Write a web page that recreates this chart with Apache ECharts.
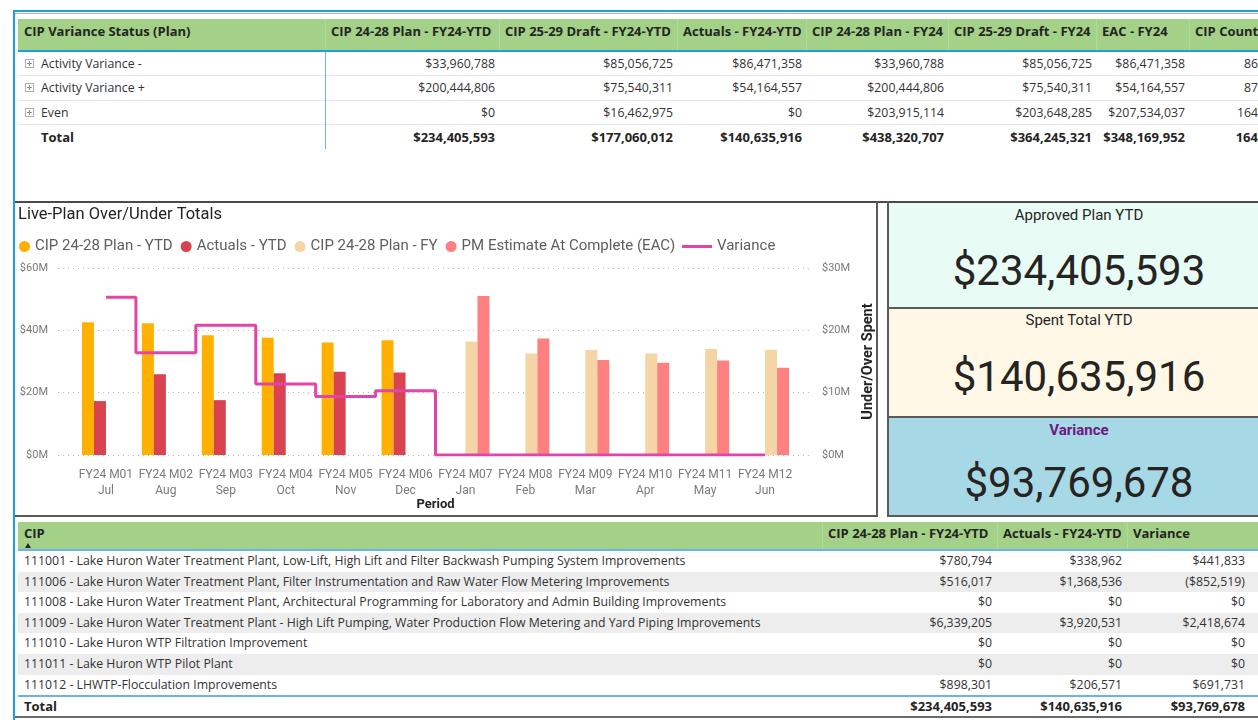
<!DOCTYPE html>
<html>
<head>
<meta charset="utf-8">
<script src="https://cdn.jsdelivr.net/npm/echarts@6/dist/echarts.min.js"></script>
<style>
html,body{margin:0;padding:0;width:1258px;height:720px;overflow:hidden;background:#fff;}
body{position:relative;font-family:"Open Sans","Noto Sans",sans-serif;color:#252423;}
.a{position:absolute;white-space:nowrap;box-sizing:border-box;}
.hd{font-weight:700;font-size:13px;color:#252423;}
.cell{font-size:12.3px;color:#333;}
.tot{font-weight:700;font-size:13px;color:#252423;}
.din{font-family:Roboto,"Open Sans",sans-serif;}
.exp{position:absolute;width:9px;height:9px;border:1px solid #B0B0B0;box-sizing:border-box;}
.exp:before{content:"";position:absolute;left:1px;top:3px;width:5px;height:1px;background:#909090;}
.exp:after{content:"";position:absolute;left:3px;top:1px;width:1px;height:5px;background:#909090;}
</style>
</head>
<body>
<div id="page"></div>
<div id="chart" class="a" style="left:16px;top:204px;width:860px;height:311px;"></div>
<script>
// ---------------- DATA ----------------
const topHeaders = ["CIP Variance Status (Plan)","CIP 24-28 Plan - FY24-YTD","CIP 25-29 Draft - FY24-YTD","Actuals - FY24-YTD","CIP 24-28 Plan - FY24","CIP 25-29 Draft - FY24","EAC - FY24","CIP Count"];
const topRowLabels = ["Activity Variance -","Activity Variance +","Even"];
const topRowValues = [
  ["$33,960,788","$85,056,725","$86,471,358","$33,960,788","$85,056,725","$86,471,358","86"],
  ["$200,444,806","$75,540,311","$54,164,557","$200,444,806","$75,540,311","$54,164,557","87"],
  ["$0","$16,462,975","$0","$203,915,114","$203,648,285","$207,534,037","164"]
];
const topTotalLabel = "Total";
const topTotals = ["$234,405,593","$177,060,012","$140,635,916","$438,320,707","$364,245,321","$348,169,952","164"];

const cardTitles = ["Approved Plan YTD","Spent Total YTD","Variance"];
const cardValues = ["$234,405,593","$140,635,916","$93,769,678"];

const cipHeaders = ["CIP","CIP 24-28 Plan - FY24-YTD","Actuals - FY24-YTD","Variance"];
const cipNames = [
  "111001 - Lake Huron Water Treatment Plant, Low-Lift, High Lift and Filter Backwash Pumping System Improvements",
  "111006 - Lake Huron Water Treatment Plant, Filter Instrumentation and Raw Water Flow Metering Improvements",
  "111008 - Lake Huron Water Treatment Plant, Architectural Programming for Laboratory and Admin Building Improvements",
  "111009 - Lake Huron Water Treatment Plant - High Lift Pumping, Water Production Flow Metering and Yard Piping Improvements",
  "111010 - Lake Huron WTP Filtration Improvement",
  "111011 - Lake Huron WTP Pilot Plant",
  "111012 - LHWTP-Flocculation Improvements"
];
const cipPlan = ["$780,794","$516,017","$0","$6,339,205","$0","$0","$898,301"];
const cipActuals = ["$338,962","$1,368,536","$0","$3,920,531","$0","$0","$206,571"];
const cipVariance = ["$441,833","($852,519)","$0","$2,418,674","$0","$0","$691,731"];
const cipTotals = ["$234,405,593","$140,635,916","$93,769,678"];

const chartTitle = "Live-Plan Over/Under Totals";
const periods = ["FY24 M01","FY24 M02","FY24 M03","FY24 M04","FY24 M05","FY24 M06","FY24 M07","FY24 M08","FY24 M09","FY24 M10","FY24 M11","FY24 M12"];
const months = ["Jul","Aug","Sep","Oct","Nov","Dec","Jan","Feb","Mar","Apr","May","Jun"];
// values in $M
const planYTD    = [42.6, 42.3, 38.4, 37.6, 36.1, 36.8, null, null, null, null, null, null];
const actualsYTD = [17.3, 25.9, 17.6, 26.2, 26.7, 26.5, null, null, null, null, null, null];
const planFY     = [null, null, null, null, null, null, 36.4, 32.6, 33.7, 32.6, 34.0, 33.8];
const eacFY      = [null, null, null, null, null, null, 51.0, 37.4, 30.5, 29.6, 30.3, 28.0];
const variance   = [25.3, 16.4, 20.8, 11.4, 9.4, 10.3, 0, 0, 0, 0, 0, 0];
const seriesNames = ["CIP 24-28 Plan - YTD","Actuals - YTD","CIP 24-28 Plan - FY","PM Estimate At Complete (EAC)","Variance"];
const leftAxisMax = 60, leftAxisStep = 20;
const rightAxisMax = 30, rightAxisStep = 10;

// ---------------- HTML DASHBOARD ----------------
const page = document.getElementById('page');
function box(x, y, w, h, css, text, cls) {
  const d = document.createElement('div');
  d.className = 'a' + (cls ? ' ' + cls : '');
  d.style.left = x + 'px'; d.style.top = y + 'px';
  if (w != null) d.style.width = w + 'px';
  if (h != null) d.style.height = h + 'px';
  if (css) d.style.cssText += css;
  if (text != null) d.textContent = text;
  page.appendChild(d);
  return d;
}

// outer frame
box(13, 10, 1245, 2, 'background:#1BA1E2;');
box(15, 13, 1243, 1, 'background:#B8B8B8;');
box(13, 10, 2, 710, 'background:#1BA1E2;');

// ----- top matrix -----
const tb = [18, 325, 499, 677, 806, 948, 1096, 1189, 1262];
box(18, 19, 1240, 31, 'background:#A3D187;');
for (let i = 1; i < tb.length - 1; i++) box(tb[i], 19, 1, 31, 'background:rgba(255,255,255,0.18);');
topHeaders.forEach((h, i) => {
  box(tb[i] + 6, 23, null, 17, 'line-height:17px;', h, 'hd');
});
box(18, 50, 1240, 2, 'background:#1BA1E2;');
const tRowTop = 52, tRowH = 24.3;
for (let r = 0; r < 4; r++) {
  const y = tRowTop + r * tRowH;
  if (r < 3) box(18, y + tRowH - 1, 1240, 1, 'background:#E6E6E6;');
  const isTot = r === 3;
  const label = isTot ? topTotalLabel : topRowLabels[r];
  if (!isTot) { const e = document.createElement('div'); e.className = 'exp'; e.style.left = '25px'; e.style.top = (y + tRowH / 2 - 5) + 'px'; page.appendChild(e); }
  box(41, y, null, tRowH, 'line-height:' + tRowH + 'px;', label, isTot ? 'tot' : 'cell');
  const vals = isTot ? topTotals : topRowValues[r];
  vals.forEach((v, c) => {
    const x1 = tb[c + 1], x2 = tb[c + 2];
    box(x1, y, x2 - x1 - 4, tRowH, 'line-height:' + tRowH + 'px;text-align:right;', v, isTot ? 'tot' : 'cell');
  });
}
box(325, 52, 1, 97, 'background:#6CB4E8;');

// ----- chart panel frame -----
box(15, 201, 1243, 2, 'background:#4A4A4A;');
box(876, 201, 2, 316, 'background:#5A5A5A;');
box(15, 515, 863, 2, 'background:#5A5A5A;');

// ----- cards -----
const cardTops = [203, 308, 417, 516];
const cardBg = ['#E8FBF5', '#FFF8E7', '#A7D8E6'];
const cardTitleOff = [3, 3, 4];
const cardValueOff = [43, 44, 41];
box(887, 201, 2, 316, 'background:#5A5A5A;');
for (let i = 0; i < 3; i++) {
  const y = cardTops[i], h = cardTops[i + 1] - y;
  box(889, y, 380, h, 'background:' + cardBg[i] + ';');
  if (i > 0) box(889, y - 1, 380, 2, 'background:#5A5A5A;');
  box(889, y + cardTitleOff[i], 380, 18, 'text-align:center;font-size:15px;line-height:18px;' + (i === 2 ? 'color:#6C1A80;font-weight:700;' : 'color:#252423;'), cardTitles[i], 'din');
  box(889, y + cardValueOff[i], 380, 50, 'text-align:center;font-size:42px;line-height:50px;color:#252423;', cardValues[i], 'din');
}
box(887, 515, 380, 2, 'background:#5A5A5A;');

// ----- bottom table -----
const bb = [18, 822, 997, 1127, 1250];
box(18, 522, 1240, 27, 'background:#A3D187;');
for (let i = 1; i < bb.length - 1; i++) box(bb[i], 522, 1, 27, 'background:rgba(255,255,255,0.18);');
cipHeaders.forEach((h, i) => box(bb[i] + 6, 525, null, 17, 'line-height:17px;', h, 'hd'));
box(25, 543, 0, 0, 'border-left:3.5px solid transparent;border-right:3.5px solid transparent;border-bottom:5px solid #252423;');
box(18, 549, 1240, 2, 'background:#6CB4E8;');
const bRowTop = 551, bRowH = 20.6;
cipNames.forEach((n, r) => {
  const y = bRowTop + r * bRowH;
  box(18, y, 1240, bRowH, 'background:' + (r % 2 === 1 ? '#EDEDED' : '#FFFFFF') + ';');
  box(24, y, null, bRowH, 'line-height:' + bRowH + 'px;', n, 'cell');
  [cipPlan[r], cipActuals[r], cipVariance[r]].forEach((v, c) => {
    box(bb[c + 1], y, bb[c + 2] - bb[c + 1] - 5, bRowH, 'line-height:' + bRowH + 'px;text-align:right;', v, 'cell');
  });
});
box(18, 695, 1240, 2, 'background:#6CB4E8;');
box(24, 697, null, 19, 'line-height:19px;', 'Total', 'tot');
cipTotals.forEach((v, c) => box(bb[c + 1], 697, bb[c + 2] - bb[c + 1] - 5, 19, 'line-height:19px;text-align:right;', v, 'tot'));
box(15, 716, 1243, 2, 'background:#6A6A6A;');

// ---------------- ECHARTS ----------------
const chart = echarts.init(document.getElementById('chart'), null, {renderer: 'canvas'});
const catLabels = periods.map((p, i) => p + '\n' + months[i]);
const fontFam = 'Roboto, "Open Sans", sans-serif';
const axisLblColor = '#7A7A7A';
function barSeries(name, data, color) {
  return {name: name, type: 'bar', xAxisIndex: 1, yAxisIndex: 2, data: data,
    barWidth: 12, barGap: '0%', itemStyle: {color: color}};
}
chart.setOption({
  backgroundColor: 'transparent',
  animation: false,
  textStyle: {fontFamily: fontFam},
  title: {text: chartTitle, left: 2, top: 2, padding: 0,
    textStyle: {fontSize: 16.5, fontWeight: 'normal', color: '#252423', fontFamily: fontFam}},
  legend: [
    {data: seriesNames.slice(0, 4), left: 3, top: 35, padding: 0, icon: 'circle',
      itemWidth: 11, itemHeight: 11, itemGap: 8,
      textStyle: {fontSize: 15, color: '#605E5C', fontFamily: fontFam}},
    {data: [seriesNames[4]], left: 666, top: 35, padding: 0, icon: 'rect',
      itemWidth: 30, itemHeight: 3,
      textStyle: {fontSize: 15, color: '#605E5C', fontFamily: fontFam}}
  ],
  grid: [
    {left: 42, right: 63, top: 64, bottom: 60, outerBoundsMode: 'none'},
    {left: 60, right: 81, top: 64, bottom: 60, outerBoundsMode: 'none'}
  ],
  xAxis: [
    {gridIndex: 0, type: 'value', min: 0, max: 1, show: false},
    {gridIndex: 1, type: 'category', data: catLabels,
      axisLine: {show: false}, axisTick: {show: false},
      axisLabel: {interval: 0, color: axisLblColor, fontSize: 12, lineHeight: 16, margin: 12, fontFamily: fontFam},
      name: 'Period', nameLocation: 'middle', nameGap: 43, nameMoveOverlap: false,
      nameTextStyle: {fontWeight: 'bold', fontSize: 13, color: '#252423', fontFamily: fontFam}}
  ],
  yAxis: [
    {gridIndex: 0, type: 'value', min: 0, max: leftAxisMax, interval: leftAxisStep, position: 'left',
      axisLine: {show: false}, axisTick: {show: false},
      axisLabel: {formatter: v => '$' + v + 'M', color: axisLblColor, fontSize: 11, margin: 10, fontFamily: fontFam},
      splitLine: {show: true, lineStyle: {type: [1, 4], color: '#B8B8B8', width: 1}}},
    {gridIndex: 0, type: 'value', min: 0, max: rightAxisMax, interval: rightAxisStep, position: 'right',
      axisLine: {show: false}, axisTick: {show: false}, splitLine: {show: false},
      axisLabel: {formatter: v => '$' + v + 'M', color: axisLblColor, fontSize: 11, margin: 9, fontFamily: fontFam},
      name: 'Under/Over Spent', nameLocation: 'middle', nameRotate: 90, nameGap: 48, nameMoveOverlap: false,
      nameTextStyle: {fontWeight: 'bold', fontSize: 14.5, color: '#252423', fontFamily: fontFam}},
    {gridIndex: 1, type: 'value', min: 0, max: leftAxisMax, interval: leftAxisStep, show: false},
    {gridIndex: 1, type: 'value', min: 0, max: rightAxisMax, interval: rightAxisStep, show: false}
  ],
  series: [
    barSeries(seriesNames[0], planYTD, '#FFB000'),
    barSeries(seriesNames[1], actualsYTD, '#D9434F'),
    barSeries(seriesNames[2], planFY, '#F5D4A6'),
    barSeries(seriesNames[3], eacFY, '#FF8080'),
    {name: seriesNames[4], type: 'line', xAxisIndex: 1, yAxisIndex: 3, data: variance,
      step: 'middle', symbol: 'none', z: 5,
      lineStyle: {color: '#E244A8', width: 3}, itemStyle: {color: '#E244A8'}}
  ]
});
</script>
</body>
</html>
